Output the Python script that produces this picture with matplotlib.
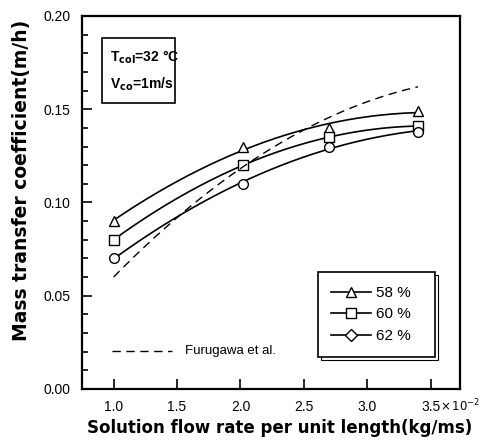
import numpy as np
import matplotlib
matplotlib.use("Agg")
import matplotlib.pyplot as plt
from matplotlib.lines import Line2D
from matplotlib.patches import Rectangle
from matplotlib.ticker import MultipleLocator, FixedLocator, FixedFormatter, FormatStrFormatter

plt.rcParams['font.family'] = ['Liberation Sans', 'DejaVu Sans']

# data (x in 1e-2 kg/ms)
x_pts = [1.0, 2.02, 2.7, 3.4]
k58 = [0.090, 0.130, 0.140, 0.149]
k60 = [0.080, 0.120, 0.135, 0.141]
k62 = [0.070, 0.110, 0.130, 0.138]
furu_x = [1.0, 1.5, 2.0, 2.5, 3.0, 3.4]
furu_y = [0.060, 0.092, 0.118, 0.139, 0.154, 0.162]
labels = ['58 %', '60 %', '62 %']
plot_markers = ['^', 's', 'o']
legend_markers = ['^', 's', 'D']
xtick_vals = [1.0, 1.5, 2.0, 2.5, 3.0, 3.5]
xtick_labels = ['1.0', '1.5', '2.0', '2.5', '3.0', '3.5']

fig = plt.figure(figsize=(4.82, 4.43), dpi=100)
ax = fig.add_axes([0.170, 0.122, 0.784, 0.842])

xs = np.linspace(1.0, 3.4, 200)
for y, m in zip([k58, k60, k62], plot_markers):
    c = np.polyfit(x_pts, y, 2)
    ax.plot(xs, np.polyval(c, xs), color='black', lw=1.2)
    ax.plot(x_pts, y, ls='none', marker=m, ms=7, mfc='white', mec='black', mew=1.0)

cf = np.polyfit(furu_x, furu_y, 3)
ax.plot(xs, np.polyval(cf, xs), color='black', lw=1.0, ls=(0, (6, 4)))

ax.set_xlim(0.75, 3.73)
ax.set_ylim(0.0, 0.20)
ax.xaxis.set_major_locator(FixedLocator(xtick_vals))
ax.xaxis.set_major_formatter(FixedFormatter(xtick_labels))
ax.yaxis.set_major_locator(MultipleLocator(0.05))
ax.yaxis.set_minor_locator(MultipleLocator(0.01))
ax.yaxis.set_major_formatter(FormatStrFormatter('%.2f'))
ax.tick_params(which='both', direction='in', labelsize=10, width=1.2)
ax.tick_params(which='major', length=7, pad=8)
ax.tick_params(which='minor', length=4)
for s in ax.spines.values():
    s.set_linewidth(1.6)

ax.text(3.57, -0.045, r'$\times\,10^{-2}$', transform=ax.get_xaxis_transform(),
        fontsize=8.5, ha='left', va='center')

ax.set_xlabel('Solution flow rate per unit length(kg/ms)', fontsize=12, fontweight='bold',
              family='DejaVu Sans')
ax.xaxis.set_label_coords(0.524, -0.08)
ax.set_ylabel('Mass transfer coefficient(m/h)', fontsize=13.5, fontweight='bold',
              family='DejaVu Sans')
ax.yaxis.set_label_coords(-0.135, 0.56)

ax.text(0.075, 0.890, r'T$_{\mathbf{col}}$=32 °C', transform=ax.transAxes, fontsize=10,
        fontweight='bold', va='center')
ax.text(0.075, 0.818, r'V$_{\mathbf{co}}$=1m/s', transform=ax.transAxes, fontsize=10,
        fontweight='bold', va='center')
ax.add_patch(Rectangle((0.053, 0.767), 0.193, 0.174, transform=ax.transAxes,
                       fill=False, ec='black', lw=1.2))

# Furugawa label
ax.plot([0.08, 0.238], [0.102, 0.102], transform=ax.transAxes, color='black', lw=1.0, ls=(0, (6, 4)))
ax.text(0.272, 0.102, 'Furugawa et al.', transform=ax.transAxes, fontsize=9.5, va='center')

handles = [Line2D([], [], color='black', lw=1.2, marker=m, ms=7 if m != 'D' else 6,
                  mfc='white', mec='black') for m in legend_markers]
leg = ax.legend(handles, labels, loc='lower left', bbox_to_anchor=(0.624, 0.086, 0.31, 0.22),
                mode='expand', frameon=True, fancybox=False, fontsize=11, handlelength=2.6,
                handletextpad=0.3, labelspacing=0.5, borderpad=0.9, borderaxespad=0,
                shadow={'facecolor': 'white', 'edgecolor': 'black', 'alpha': 1, 'lw': 0.8})
leg.get_frame().set_edgecolor('black')
leg.get_frame().set_linewidth(1.2)

fig.savefig('out.png', dpi=100)
